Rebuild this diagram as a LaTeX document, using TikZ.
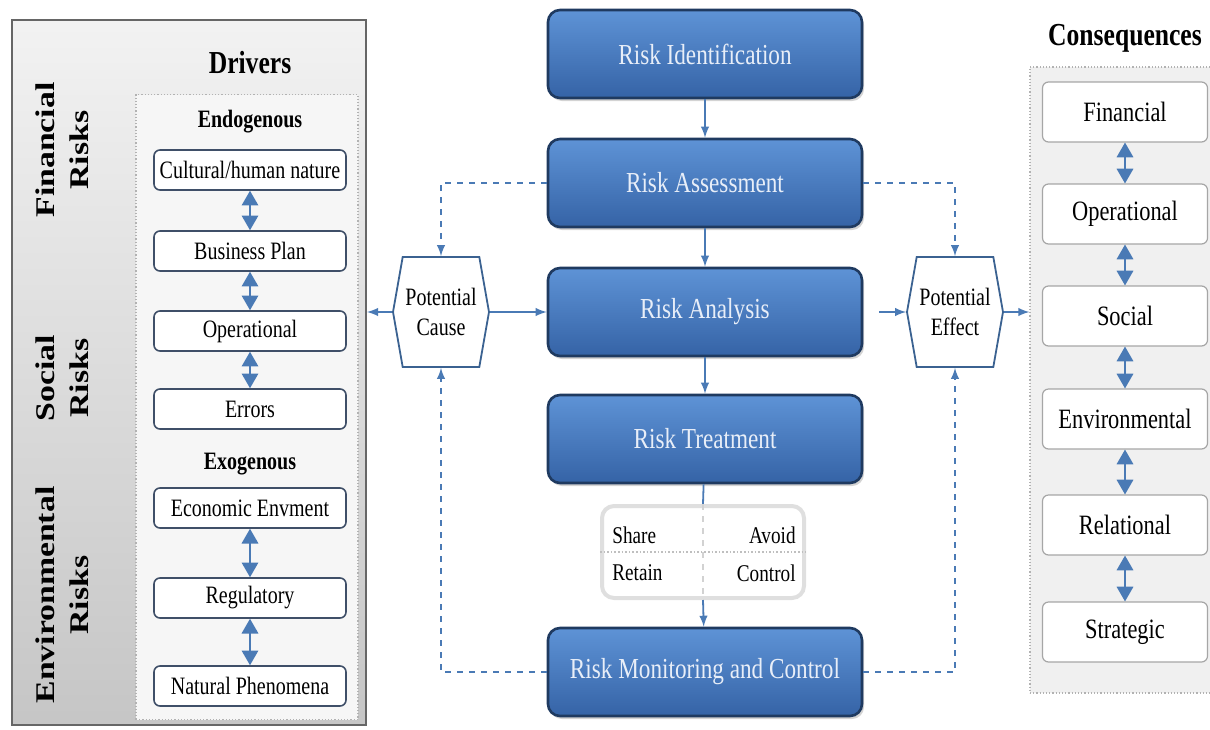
\documentclass[tikz,border=0pt]{standalone}
\usepackage{fontspec}
\setmainfont{Liberation Serif}[FakeStretch=0.8]
\newfontfamily\vertfont{Liberation Serif}[FakeStretch=1.25]
\usepackage{tikz}
\usetikzlibrary{arrows}
\usetikzlibrary{shapes.symbols}
\usetikzlibrary{shadows}

\definecolor{flowblue}{HTML}{4A7AB5}
\definecolor{stagetop}{HTML}{5E93D6}
\definecolor{stagebot}{HTML}{3563A6}
\definecolor{stageedge}{HTML}{1F3A60}
\definecolor{stagetext}{HTML}{E8EEF8}
\definecolor{itemedge}{HTML}{3F4F68}

\tikzset{
  stagebox/.style={draw=stageedge, line width=1.3pt, rounded corners=6pt,
    top color=stagetop, bottom color=stagebot, minimum width=157pt,
    minimum height=44pt, text=stagetext, font=\fontsize{14.5}{16}\selectfont,
    drop shadow={opacity=0.35, shadow xshift=1pt, shadow yshift=-1.5pt}},
  itembox/.style={draw=itemedge, line width=0.8pt, fill=white, rounded corners=3pt,
    minimum width=96pt, minimum height=20pt, inner sep=1pt,
    font=\fontsize{12.5}{14}\selectfont},
  conbox/.style={draw=gray!70, line width=0.6pt, fill=white, rounded corners=3pt,
    minimum width=82.5pt, minimum height=30pt, font=\fontsize{14}{16}\selectfont},
  hexbox/.style={signal, signal to=west and east, signal pointer angle=160,
    draw=flowblue!80!black, line width=0.9pt, fill=white, minimum width=48pt,
    minimum height=55pt, inner sep=1pt, align=center,
    font=\fontsize{12.5}{15}\selectfont},
  panel/.style={draw=gray!60, densely dotted, line width=0.6pt},
  flow/.style={draw=flowblue, line width=0.9pt, -latex},
  twoway/.style={draw=flowblue, line width=1pt, triangle 60-triangle 60},
  dashflow/.style={draw=flowblue, line width=0.9pt, dashed, -latex},
  headtext/.style={font=\bfseries\fontsize{16}{18}\selectfont},
  subhead/.style={font=\bfseries\fontsize{12.5}{14}\selectfont},
  risklabel/.style={rotate=90, align=center,
    font=\vertfont\bfseries\fontsize{13.5}{17}\selectfont},
  cornertext/.style={inner sep=0pt, font=\fontsize{12}{14}\selectfont}
}

\begin{document}
\begin{tikzpicture}[x=0.5pt,y=-0.5pt]
  \useasboundingbox (0,0) rectangle (1210,729);

  % drivers
  \node [draw=gray!80!black, line width=1pt, top color=gray!10, bottom color=gray!45,
    minimum width=177pt, minimum height=352.5pt] (drv) at (189,372) {};
  \node [panel, fill=gray!7, minimum width=111pt, minimum height=312.5pt] (endo) at (247,407) {};
  \node [headtext] (drvhead) at (250,63) {Drivers};
  \node [risklabel] (finrisk) at (62,150) {Financial\\Risks};
  \node [risklabel] (socrisk) at (62,378) {Social\\Risks};
  \node [risklabel] (envrisk) at (62,595) {Environmental\\Risks};
  \node [subhead] (endohead) at (250,122) {Endogenous};
  \node [itembox] (cult) at (250,170) {Cultural/human nature};
  \node [itembox] (plan) at (250,251) {Business Plan};
  \node [itembox] (oper) at (250,331) {Operational};
  \node [itembox] (err) at (250,409) {Errors};
  \node [subhead] (exohead) at (250,464) {Exogenous};
  \node [itembox] (econ) at (250,508) {Economic Envment};
  \node [itembox] (regu) at (250,598) {Regulatory};
  \node [itembox] (natu) at (250,686) {Natural Phenomena};
  \draw [twoway] (cult) -- (plan);
  \draw [twoway] (plan) -- (oper);
  \draw [twoway] (oper) -- (err);
  \draw [twoway] (econ) -- (regu);
  \draw [twoway] (regu) -- (natu);

  % process
  \node [stagebox] (ident) at (705,54) {Risk Identification};
  \node [stagebox] (assess) at (705,183) {Risk Assessment};
  \node [stagebox] (anal) at (705,312) {Risk Analysis};
  \node [stagebox] (treat) at (705,439) {Risk Treatment};
  \node [stagebox] (monit) at (705,672) {Risk Monitoring and Control};
  \node [draw=gray!25, line width=2pt, fill=white, rounded corners=6pt,
    minimum width=101pt, minimum height=46pt] (opts) at (703,552) {};
  \draw [gray!50, densely dotted, line width=0.8pt] (opts.west) -- (opts.east);
  \node [cornertext, anchor=west] (share) at (612,535) {Share};
  \node [cornertext, anchor=east] (avoid) at (796,535) {Avoid};
  \node [cornertext, anchor=west] (retain) at (612,573) {Retain};
  \node [cornertext, anchor=east] (ctrl) at (796,573) {Control};
  \draw [flow] (ident) -- (assess);
  \draw [flow] (assess) -- (anal);
  \draw [flow] (anal) -- (treat);
  \draw [draw=flowblue, line width=0.9pt] (treat) -- (opts.north);
  \draw [gray!35, dashed, line width=0.6pt] (opts.north) -- (opts.south);
  \draw [flow] (opts.south) -- (monit);

  % cause and effect
  \node [hexbox] (cause) at (441,312) {Potential\\Cause};
  \node [hexbox] (effect) at (955,312) {Potential\\Effect};
  \draw [dashflow] (assess.west) -| (cause.north);
  \draw [dashflow] (assess.east) -| (effect.north);
  \draw [dashflow] (monit.west) -| (cause.south);
  \draw [dashflow] (monit.east) -| (effect.south);
  \draw [flow] (cause.west) -- (cause.west -| drv.east);
  \draw [flow] (cause.east) -- (anal.west);
  \draw [flow, shorten <=8pt] (anal.east) -- (effect.west);

  % consequences
  \node [panel, fill=gray!12, minimum width=91pt, minimum height=313pt] (cons) at (1121,380) {};
  \node [headtext] (conshead) at (1125,38) {Consequences};
  \node [conbox] (cfin) at (1125,112) {Financial};
  \node [conbox] (cope) at (1125,214) {Operational};
  \node [conbox] (csoc) at (1125,316) {Social};
  \node [conbox] (cenv) at (1125,419) {Environmental};
  \node [conbox] (crel) at (1125,525) {Relational};
  \node [conbox] (cstr) at (1125,632) {Strategic};
  \draw [twoway] (cfin) -- (cope);
  \draw [twoway] (cope) -- (csoc);
  \draw [twoway] (csoc) -- (cenv);
  \draw [twoway] (cenv) -- (crel);
  \draw [twoway] (crel) -- (cstr);
  \draw [flow] (effect.east) -- (effect.east -| cons.west);
\end{tikzpicture}
\end{document}
